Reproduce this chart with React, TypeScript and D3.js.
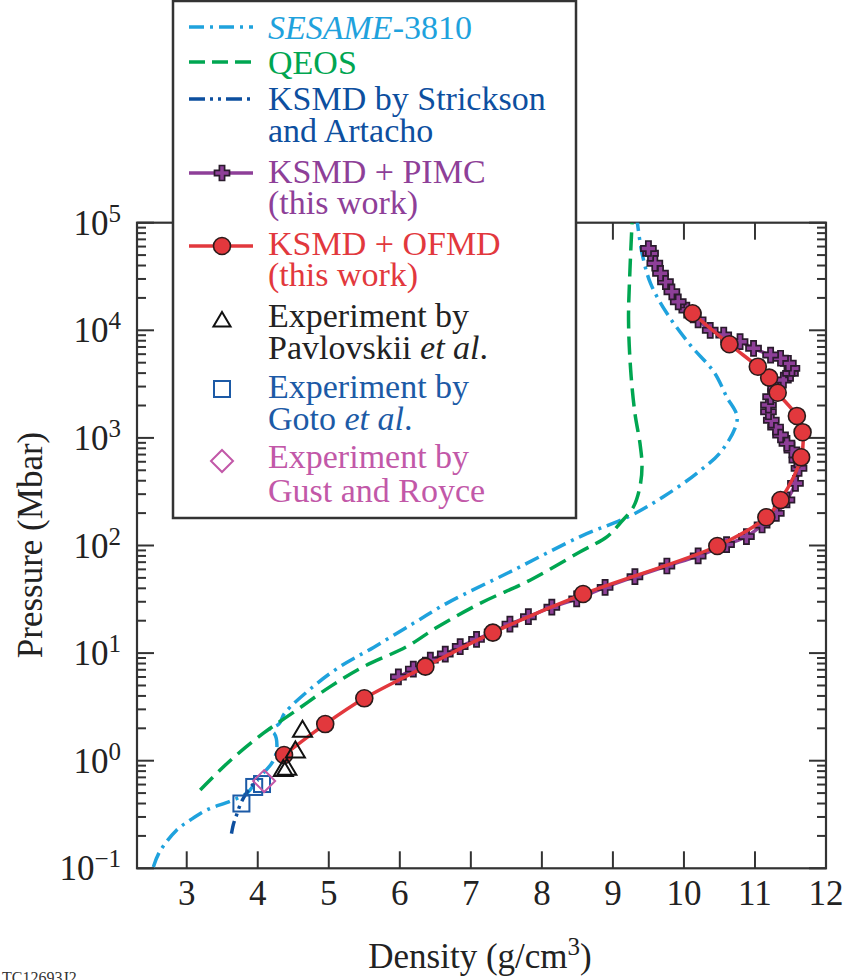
import React from "react";
import * as d3 from "d3";

type Pt = [number, number];

const sesame: Pt[] = [
  [2.53, 0.103], [2.62, 0.143], [2.86, 0.227], [3.05, 0.281], [3.28, 0.348], [3.61, 0.42],
  [3.85, 0.5], [3.99, 0.66], [4.22, 1.0], [4.27, 1.35], [4.23, 1.8], [4.15, 1.92], [4.3, 2.2],
  [4.38, 2.77], [4.78, 4.88], [5.16, 7.5], [5.63, 11.3], [6.19, 18.9], [6.66, 29], [7.6, 59],
  [8.54, 121], [9.24, 188], [9.71, 284], [10.18, 469], [10.54, 773], [10.75, 1520],
  [10.6, 2415], [10.42, 4120], [10.09, 7290], [9.76, 14400], [9.53, 27300], [9.41, 52000],
  [9.34, 106000],
];

const qeos: Pt[] = [
  [3.19, 0.535], [3.61, 1.0], [4.08, 1.8], [4.55, 2.96], [5.02, 4.88], [5.49, 7.48],
  [6.1, 11.5], [6.5, 17], [7.13, 29], [7.84, 47.8], [8.54, 87.5], [8.92, 121], [9.1, 161],
  [9.29, 229], [9.38, 350], [9.41, 550], [9.38, 900], [9.31, 1690], [9.25, 4280],
  [9.22, 12500], [9.24, 36300], [9.27, 100000],
];

const strickson: Pt[] = [
  [3.63, 0.21], [3.66, 0.26], [3.7, 0.31], [3.76, 0.4], [3.84, 0.5], [3.93, 0.6], [4.0, 0.66],
];

const pimc: Pt[] = [
  [5.98, 6.0], [6.19, 7.1], [6.43, 8.6], [6.64, 9.8], [6.85, 11.5], [7.08, 13.4], [7.3, 15.6],
  [7.55, 18.6], [7.81, 21.8], [8.14, 26.7], [8.49, 31.9], [8.89, 40.8], [9.31, 51.3],
  [9.76, 64.5], [10.2, 80], [10.6, 102], [10.88, 121], [11.1, 155], [11.3, 199], [11.45, 265],
  [11.57, 378], [11.62, 521], [11.59, 624], [11.52, 773], [11.45, 892], [11.36, 1065],
  [11.29, 1260], [11.23, 1460], [11.19, 1750], [11.19, 2020], [11.22, 2415], [11.29, 2890],
  [11.4, 3450], [11.5, 3980], [11.52, 4430], [11.47, 4940], [11.36, 5500], [11.22, 5890],
  [10.98, 6800], [10.79, 7840], [10.56, 9040], [10.37, 10000], [10.2, 12500], [10.04, 15400],
  [9.92, 18400], [9.83, 22800], [9.74, 28300], [9.67, 33900], [9.59, 42000], [9.53, 52000],
  [9.5, 57600],
];

const ofmd: Pt[] = [
  [4.37, 1.13], [4.95, 2.19], [5.5, 3.8], [6.36, 7.48], [7.31, 15.5], [8.58, 35.4],
  [10.47, 99], [11.16, 183], [11.36, 265], [11.65, 660], [11.67, 1130], [11.59, 1600],
  [11.32, 2630], [11.2, 3630], [11.04, 4590], [10.64, 7420], [10.12, 14400],
];

const pavlovskii: Pt[] = [[4.36, 0.82], [4.41, 0.84], [4.53, 1.22], [4.63, 1.9]];
const goto: Pt[] = [[3.77, 0.4], [3.95, 0.57], [4.06, 0.607]];
const gust: Pt[] = [[4.09, 0.647]];

const xTicks = [3, 4, 5, 6, 7, 8, 9, 10, 11, 12];
const yDecades = [-1, 0, 1, 2, 3, 4, 5];

const C_SES = "#1fa2dd";
const C_QEOS = "#00a651";
const C_STR = "#0d4f9f";
const C_PIMC = "#8e3f98";
const C_OFMD = "#e2383d";
const C_GOTO = "#1c5aa6";
const C_GUST = "#c258a8";
const AX = "#333";

const FONT = "Liberation Serif, Noto Serif, DejaVu Serif, FreeSerif, Times, serif";

const L = 137, R = 826, T = 222.7, B = 868.3;

const x = d3.scaleLinear().domain([2.3, 12]).range([L, R]);
const y = d3.scaleLog().domain([0.1, 1e5]).range([B, T]);

const line = d3
  .line<Pt>()
  .x((d) => x(d[0]))
  .y((d) => y(d[1]))
  .curve(d3.curveCatmullRom.alpha(0.5));

const crossPath = (a = 7.5, w = 2.6) =>
  `M${-w},${-a}L${w},${-a}L${w},${-w}L${a},${-w}L${a},${w}L${w},${w}L${w},${a}L${-w},${a}L${-w},${w}L${-a},${w}L${-a},${-w}L${-w},${-w}Z`;

const triPath = (s = 10) => `M0,${-s}L${s * 0.95},${s * 0.6}L${-s * 0.95},${s * 0.6}Z`;

function Cross({ cx, cy }: { cx: number; cy: number }) {
  return (
    <path d={crossPath()} transform={`translate(${cx},${cy})`} fill={C_PIMC} stroke="#2a1b2c" strokeWidth={1.7} />
  );
}
function Circ({ cx, cy }: { cx: number; cy: number }) {
  return <circle cx={cx} cy={cy} r={8.5} fill={C_OFMD} stroke="#2a1b1b" strokeWidth={1.6} />;
}

export default function App() {
  const minorY: number[] = [];
  for (let e = -1; e < 5; e++) for (let k = 2; k <= 9; k++) minorY.push(k * Math.pow(10, e));

  const fs = 34;
  const legendText: { y: number; color: string; parts: { t: string; i?: boolean }[] }[] = [
    { y: 39, color: C_SES, parts: [{ t: "SESAME", i: true }, { t: "-3810" }] },
    { y: 74, color: C_QEOS, parts: [{ t: "QEOS" }] },
    { y: 110, color: C_STR, parts: [{ t: "KSMD by Strickson" }] },
    { y: 142, color: C_STR, parts: [{ t: "and Artacho" }] },
    { y: 183, color: C_PIMC, parts: [{ t: "KSMD + PIMC" }] },
    { y: 214, color: C_PIMC, parts: [{ t: "(this work)" }] },
    { y: 255, color: C_OFMD, parts: [{ t: "KSMD + OFMD" }] },
    { y: 286, color: C_OFMD, parts: [{ t: "(this work)" }] },
    { y: 327, color: "#222", parts: [{ t: "Experiment by" }] },
    { y: 359, color: "#222", parts: [{ t: "Pavlovskii " }, { t: "et al", i: true }, { t: "." }] },
    { y: 398, color: C_GOTO, parts: [{ t: "Experiment by" }] },
    { y: 430, color: C_GOTO, parts: [{ t: "Goto " }, { t: "et al", i: true }, { t: "." }] },
    { y: 468, color: C_GUST, parts: [{ t: "Experiment by" }] },
    { y: 502, color: C_GUST, parts: [{ t: "Gust and Royce" }] },
  ];

  return (
    <svg
      width={846}
      height={980}
      style={{ position: "absolute", left: 0, top: 0, background: "#fff" }}
      fontFamily={FONT}
    >
      <defs>
        <clipPath id="plot">
          <rect x={L} y={T} width={R - L} height={B - T} />
        </clipPath>
      </defs>
      <rect width={846} height={980} fill="#fff" />

      {/* ticks */}
      <g stroke={AX} strokeWidth={2}>
        {xTicks.map((t) => (
          <g key={"xt" + t}>
            <line x1={x(t)} x2={x(t)} y1={B} y2={B - 17} />
            <line x1={x(t)} x2={x(t)} y1={T} y2={T + 17} />
          </g>
        ))}
        {yDecades.map((e) => (
          <g key={"yd" + e}>
            <line x1={L} x2={L + 17} y1={y(Math.pow(10, e))} y2={y(Math.pow(10, e))} />
            <line x1={R} x2={R - 17} y1={y(Math.pow(10, e))} y2={y(Math.pow(10, e))} />
          </g>
        ))}
        {minorY.map((v, i) => (
          <g key={"ym" + i}>
            <line x1={L} x2={L + 9} y1={y(v)} y2={y(v)} />
            <line x1={R} x2={R - 9} y1={y(v)} y2={y(v)} />
          </g>
        ))}
      </g>
      <rect x={L} y={T} width={R - L} height={B - T} fill="none" stroke={AX} strokeWidth={2.2} />

      {/* tick labels */}
      <g fontSize={35} fill="#222">
        {xTicks.map((t) => (
          <text key={"xl" + t} x={x(t)} y={905} textAnchor="middle">
            {t}
          </text>
        ))}
        {yDecades.map((e) => (
          <text key={"yl" + e} x={121} y={y(Math.pow(10, e)) + 12} textAnchor="end">
            10
            <tspan dy={-13} fontSize={25}>
              {e < 0 ? "\u2212" + Math.abs(e) : String(e)}
            </tspan>
          </text>
        ))}
      </g>

      {/* axis titles */}
      <text transform="translate(42,545) rotate(-90)" textAnchor="middle" fontSize={35} fill="#222">
        Pressure (Mbar)
      </text>
      <text x={480} y={968} textAnchor="middle" fontSize={35} fill="#222">
        Density (g/cm<tspan dy={-13} fontSize={25}>3</tspan>
        <tspan dy={13}>)</tspan>
      </text>
      <text x={2} y={983} fontSize={16} fill="#333">
        TC12693J2
      </text>

      {/* curves */}
      <g clipPath="url(#plot)" fill="none" strokeWidth={3.5}>
        <path d={line(sesame) || ""} stroke={C_SES} strokeDasharray="15 6 3 6" />
        <path d={line(qeos) || ""} stroke={C_QEOS} strokeDasharray="18 8" />
        <path d={line(strickson) || ""} stroke={C_STR} strokeDasharray="13 5 3 5 3 5" />
        <path d={line(pimc) || ""} stroke={C_PIMC} strokeWidth={3.5} />
      </g>
      <g>
        {pimc.map((d, i) => (
          <Cross key={"pc" + i} cx={x(d[0])} cy={y(d[1])} />
        ))}
      </g>
      <path d={line(ofmd) || ""} stroke={C_OFMD} strokeWidth={3.5} fill="none" />
      <g>
        {ofmd.map((d, i) => (
          <Circ key={"oc" + i} cx={x(d[0])} cy={y(d[1])} />
        ))}
      </g>

      {/* experiments */}
      <g fill="none" strokeWidth={2}>
        {goto.map((d, i) => (
          <rect key={"g" + i} x={x(d[0]) - 8} y={y(d[1]) - 8} width={16} height={16} stroke={C_GOTO} />
        ))}
        {gust.map((d, i) => (
          <path
            key={"gu" + i}
            d="M0,-11L11,0L0,11L-11,0Z"
            transform={`translate(${x(d[0])},${y(d[1])})`}
            stroke={C_GUST}
          />
        ))}
        {pavlovskii.map((d, i) => (
          <path key={"p" + i} d={triPath()} transform={`translate(${x(d[0])},${y(d[1])})`} stroke="#111" />
        ))}
      </g>

      {/* legend */}
      <rect x={173} y={1} width={403} height={517} fill="#fff" stroke={AX} strokeWidth={2.5} />
      <g strokeWidth={3.5} fill="none">
        <line x1={189} x2={253} y1={27} y2={27} stroke={C_SES} strokeDasharray="15 6 3 6" />
        <line x1={189} x2={253} y1={62} y2={62} stroke={C_QEOS} strokeDasharray="16 7" />
        <line x1={189} x2={253} y1={99} y2={99} stroke={C_STR} strokeDasharray="16 5 3 5 3 5" />
        <line x1={189} x2={253} y1={173} y2={173} stroke={C_PIMC} />
        <line x1={189} x2={253} y1={246} y2={246} stroke={C_OFMD} />
      </g>
      <Cross cx={222} cy={173} />
      <Circ cx={222} cy={246} />
      <path d={triPath(9)} transform="translate(222,321)" fill="none" stroke="#111" strokeWidth={2} />
      <rect x={214} y={381} width={16} height={16} fill="none" stroke={C_GOTO} strokeWidth={2} />
      <path d="M0,-11L11,0L0,11L-11,0Z" transform="translate(222,461)" fill="none" stroke={C_GUST} strokeWidth={2} />
      <g fontSize={fs}>
        {legendText.map((l, i) => (
          <text key={"lt" + i} x={268} y={l.y} fill={l.color}>
            {l.parts.map((p, j) => (
              <tspan key={j} fontStyle={p.i ? "italic" : "normal"}>
                {p.t}
              </tspan>
            ))}
          </text>
        ))}
      </g>
    </svg>
  );
}
